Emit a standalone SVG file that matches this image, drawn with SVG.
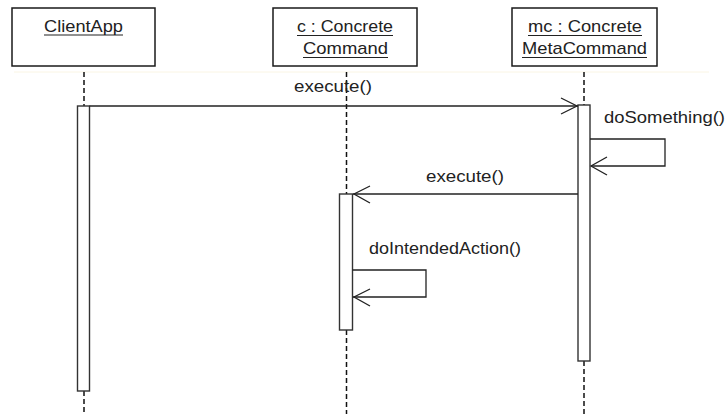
<svg xmlns="http://www.w3.org/2000/svg" width="726" height="414" viewBox="0 0 726 414">
<style>
.box{fill:#fff;stroke:#1a1a1a;stroke-width:1.5}
.act{fill:#fff;stroke:#333;stroke-width:1.4}
.life{stroke:#111;stroke-width:1.5;stroke-dasharray:5 3;fill:none}
.msg{stroke:#222;stroke-width:1.3;fill:none}
.ul{stroke:#222;stroke-width:1.2}
text{font-family:"Liberation Sans",Arial,sans-serif;font-size:17px;fill:#222}
.c{text-anchor:middle}
</style>
<rect width="726" height="414" fill="#fff"/>
<line x1="14" y1="72" x2="709" y2="72" stroke="#faf5e4" stroke-width="1"/>
<g id="lifelines">
<line class="life" x1="84" y1="72" x2="84" y2="106"/>
<line class="life" x1="84" y1="391" x2="84" y2="414"/>
<line class="life" x1="346.5" y1="72" x2="346.5" y2="194"/>
<line class="life" x1="346.5" y1="330" x2="346.5" y2="414"/>
<line class="life" x1="584" y1="72" x2="584" y2="105"/>
<line class="life" x1="584" y1="361" x2="584" y2="414"/>
</g>
<g id="node-clientapp">
<rect class="box" x="12" y="8" width="143" height="58"/>
<text class="c" x="83.5" y="32" textLength="79" lengthAdjust="spacingAndGlyphs">ClientApp</text>
<line class="ul" x1="44" y1="35" x2="123" y2="35"/>
<rect class="act" x="77.5" y="106" width="12" height="285"/>
</g>
<g id="node-concretecommand">
<rect class="box" x="273" y="8" width="144" height="58"/>
<text class="c" x="345" y="32" textLength="96" lengthAdjust="spacingAndGlyphs">c : Concrete</text>
<line class="ul" x1="297" y1="35.5" x2="393" y2="35.5"/>
<text class="c" x="345.5" y="54" textLength="85" lengthAdjust="spacingAndGlyphs">Command</text>
<line class="ul" x1="303" y1="57.5" x2="388" y2="57.5"/>
<rect class="act" x="339.5" y="194" width="13" height="136"/>
</g>
<g id="node-metacommand">
<rect class="box" x="512" y="8" width="145" height="58"/>
<text class="c" x="585" y="32" textLength="114" lengthAdjust="spacingAndGlyphs">mc : Concrete</text>
<line class="ul" x1="528" y1="35.5" x2="642" y2="35.5"/>
<text class="c" x="584.5" y="54" textLength="125" lengthAdjust="spacingAndGlyphs">MetaCommand</text>
<line class="ul" x1="522" y1="57.5" x2="647" y2="57.5"/>
<rect class="act" x="578" y="105" width="12" height="256"/>
</g>
<g id="connectors">
<line class="msg" x1="89.5" y1="106" x2="578" y2="106"/>
<polyline class="msg" points="561,98 577,106 561,114"/>
<text class="c" x="333" y="92" textLength="78" lengthAdjust="spacingAndGlyphs">execute()</text>
<polyline class="msg" points="590,139 665,139 665,166 591,166"/>
<polyline class="msg" points="607,157 591,166 607,175"/>
<text x="604" y="123" textLength="121" lengthAdjust="spacingAndGlyphs">doSomething()</text>
<line class="msg" x1="578" y1="194" x2="353" y2="194"/>
<polyline class="msg" points="370,186 354,194 370,203"/>
<text class="c" x="465" y="182" textLength="78" lengthAdjust="spacingAndGlyphs">execute()</text>
<polyline class="msg" points="352.5,270 426,270 426,297 353,297"/>
<polyline class="msg" points="370,289 354,297 370,306"/>
<text x="369" y="254" textLength="152" lengthAdjust="spacingAndGlyphs">doIntendedAction()</text>
</g>
</svg>
